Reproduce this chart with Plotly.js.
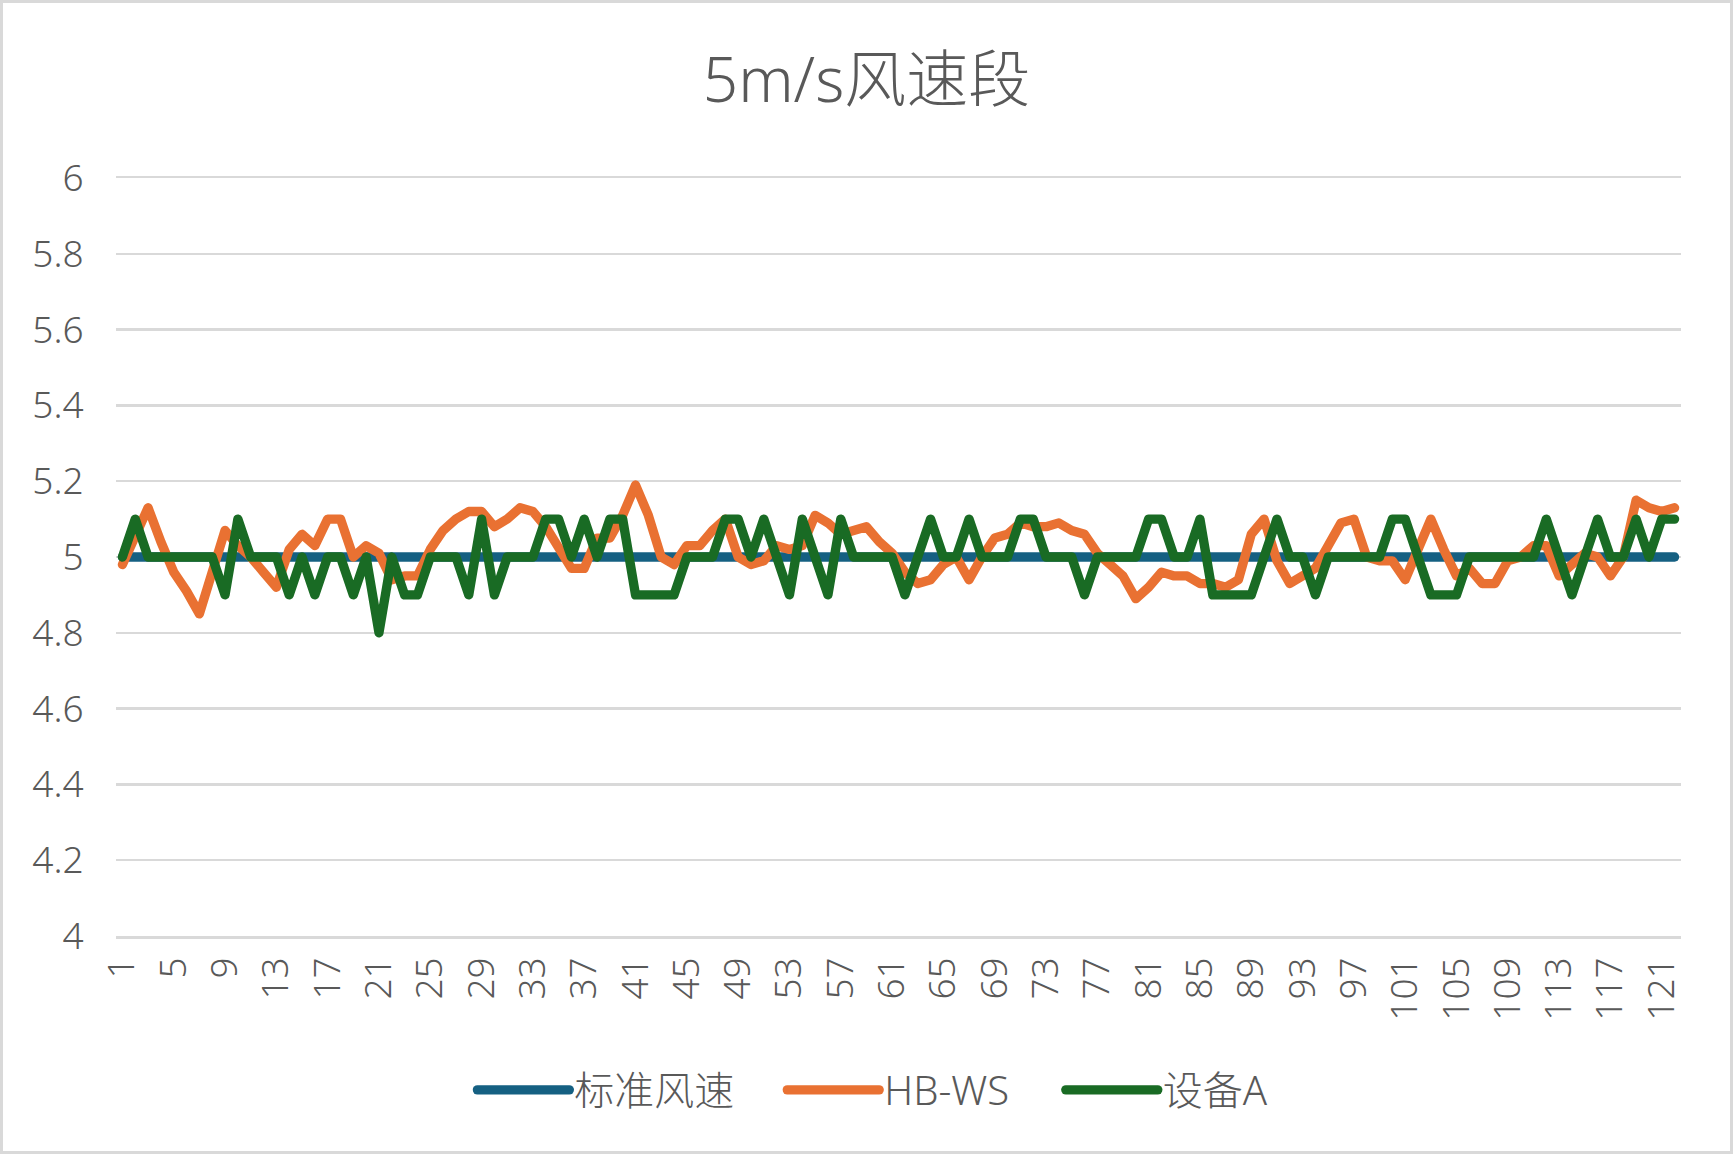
<!DOCTYPE html>
<html>
<head>
<meta charset="utf-8">
<script src="https://cdn.plot.ly/plotly-3.0.1.min.js"></script>
<style>
  html, body { margin: 0; padding: 0; background: #ffffff; }
  #wrap { position: relative; width: 1733px; height: 1154px; }
  #chart { width: 1733px; height: 1154px; }
  #frame {
    position: absolute; left: 0; top: 0; width: 1733px; height: 1154px;
    box-sizing: border-box; border: 3px solid #d9d9d9; pointer-events: none;
  }
  .scatterlayer path.js-line { stroke-linejoin: round !important; stroke-linecap: round !important; }
  .legendlines path { stroke-linecap: round !important; }
</style>
</head>
<body>
<div id="wrap">
  <div id="chart"></div>
  <div id="frame"></div>
</div>
<script>
// Sample index (1..122)
const samples = [
  1,2,3,4,5,6,7,8,9,10,11,12,13,14,15,16,17,18,19,20,
  21,22,23,24,25,26,27,28,29,30,31,32,33,34,35,36,37,38,39,40,
  41,42,43,44,45,46,47,48,49,50,51,52,53,54,55,56,57,58,59,60,
  61,62,63,64,65,66,67,68,69,70,71,72,73,74,75,76,77,78,79,80,
  81,82,83,84,85,86,87,88,89,90,91,92,93,94,95,96,97,98,99,100,
  101,102,103,104,105,106,107,108,109,110,111,112,113,114,115,116,117,118,119,120,
  121,122
];

// 标准风速 (reference wind speed, m/s)
const standardSpeed = [
  5,5,5,5,5,5,5,5,5,5,5,5,5,5,5,5,5,5,5,5,
  5,5,5,5,5,5,5,5,5,5,5,5,5,5,5,5,5,5,5,5,
  5,5,5,5,5,5,5,5,5,5,5,5,5,5,5,5,5,5,5,5,
  5,5,5,5,5,5,5,5,5,5,5,5,5,5,5,5,5,5,5,5,
  5,5,5,5,5,5,5,5,5,5,5,5,5,5,5,5,5,5,5,5,
  5,5,5,5,5,5,5,5,5,5,5,5,5,5,5,5,5,5,5,5,
  5,5
];

// HB-WS readings
const hbws = [
  4.98,5.05,5.13,5.04,4.96,4.91,4.85,4.96,5.07,5.03,
  5.00,4.96,4.92,5.02,5.06,5.03,5.10,5.10,5.00,5.03,
  5.01,4.94,4.95,4.95,5.02,5.07,5.10,5.12,5.12,5.08,
  5.10,5.13,5.12,5.08,5.03,4.97,4.97,5.05,5.05,5.11,
  5.19,5.11,5.00,4.98,5.03,5.03,5.07,5.10,5.00,4.98,
  4.99,5.03,5.02,5.03,5.11,5.09,5.06,5.07,5.08,5.04,
  5.01,4.96,4.93,4.94,4.98,5.00,4.94,5.00,5.05,5.06,
  5.09,5.08,5.08,5.09,5.07,5.06,5.01,4.98,4.95,4.89,
  4.92,4.96,4.95,4.95,4.93,4.93,4.92,4.94,5.06,5.10,
  4.99,4.93,4.95,4.97,5.03,5.09,5.10,5.00,4.99,4.99,
  4.94,5.02,5.10,5.02,4.95,4.97,4.93,4.93,4.99,5.00,
  5.03,5.03,4.95,4.98,5.01,5.00,4.95,5.00,5.15,5.13,
  5.12,5.13
];

// 设备A readings
const deviceA = [
  5.0,5.1,5.0,5.0,5.0,5.0,5.0,5.0,4.9,5.1,
  5.0,5.0,5.0,4.9,5.0,4.9,5.0,5.0,4.9,5.0,
  4.8,5.0,4.9,4.9,5.0,5.0,5.0,4.9,5.1,4.9,
  5.0,5.0,5.0,5.1,5.1,5.0,5.1,5.0,5.1,5.1,
  4.9,4.9,4.9,4.9,5.0,5.0,5.0,5.1,5.1,5.0,
  5.1,5.0,4.9,5.1,5.0,4.9,5.1,5.0,5.0,5.0,
  5.0,4.9,5.0,5.1,5.0,5.0,5.1,5.0,5.0,5.0,
  5.1,5.1,5.0,5.0,5.0,4.9,5.0,5.0,5.0,5.0,
  5.1,5.1,5.0,5.0,5.1,4.9,4.9,4.9,4.9,5.0,
  5.1,5.0,5.0,4.9,5.0,5.0,5.0,5.0,5.0,5.1,
  5.1,5.0,4.9,4.9,4.9,5.0,5.0,5.0,5.0,5.0,
  5.0,5.1,5.0,4.9,5.0,5.1,5.0,5.0,5.1,5.0,
  5.1,5.1
];

// Category labels shown on the x axis (every 4th sample)
const xTickVals = [1,5,9,13,17,21,25,29,33,37,41,45,49,53,57,61,65,69,73,77,81,85,89,93,97,101,105,109,113,117,121];
const xTickText = ['1','5','9','13','17','21','25','29','33','37','41','45','49','53','57','61','65','69','73','77','81','85','89','93','97','101','105','109','113','117','121'];

const seriesNames = ['标准风速', 'HB-WS', '设备A'];
const seriesColors = ['#156082', '#E97132', '#196B24'];
const legendIds = ['legend', 'legend2', 'legend3'];
// left edge of each legend entry (paper fraction along the plot width)
const legendX = [0.2277, 0.4257, 0.6037];

const FONT = '"Noto Sans", "Noto Sans CJK SC", sans-serif';
const TEXT = '#595959';
const GRID = '#d9d9d9';
const LW = 9.3;

const traces = [standardSpeed, hbws, deviceA].map((ys, k) => ({
  type: 'scatter',
  mode: 'lines',
  x: samples,
  y: ys,
  name: seriesNames[k],
  legend: legendIds[k],
  line: { color: seriesColors[k], width: LW },
  hoverinfo: 'x+y+name'
}));

const layout = {
  width: 1733,
  height: 1154,
  paper_bgcolor: '#ffffff',
  plot_bgcolor: '#ffffff',
  margin: { l: 116, r: 52, t: 178, b: 218 },
  font: { family: FONT, color: TEXT },
  title: {
    text: '5m/s风速段',
    font: { family: FONT, size: 62, color: TEXT, weight: 300 },
    x: 0.5, xanchor: 'center',
    xref: 'container', yref: 'container',
    y: 1 - 80 / 1154, yanchor: 'middle'
  },
  xaxis: {
    range: [0.5, 122.5],
    tickmode: 'array',
    tickvals: xTickVals,
    ticktext: xTickText,
    tickangle: -90,
    tickfont: { family: FONT, size: 37, color: TEXT, weight: 300 },
    ticks: 'outside', ticklen: 4, tickcolor: 'rgba(0,0,0,0)',
    showgrid: false, zeroline: false,
    showline: true, mirror: true, linecolor: GRID, linewidth: 2.5,
    fixedrange: true
  },
  yaxis: {
    range: [4, 6],
    tick0: 4, dtick: 0.2,
    tickfont: { family: FONT, size: 37, color: TEXT, weight: 300 },
    ticks: 'outside', ticklen: 24, tickcolor: 'rgba(0,0,0,0)',
    showgrid: true, gridcolor: GRID, gridwidth: 2.5,
    zeroline: false, showline: false,
    fixedrange: true
  },
  showlegend: true
};

legendIds.forEach((id, k) => {
  layout[id] = {
    orientation: 'h',
    x: legendX[k], xanchor: 'left',
    y: -0.203, yanchor: 'middle',
    font: { family: FONT, size: 40, color: TEXT, weight: 300 },
    itemwidth: 92,
    bgcolor: 'rgba(0,0,0,0)'
  };
});

Plotly.newPlot('chart', traces, layout, { displayModeBar: false, staticPlot: true });
</script>
</body>
</html>
